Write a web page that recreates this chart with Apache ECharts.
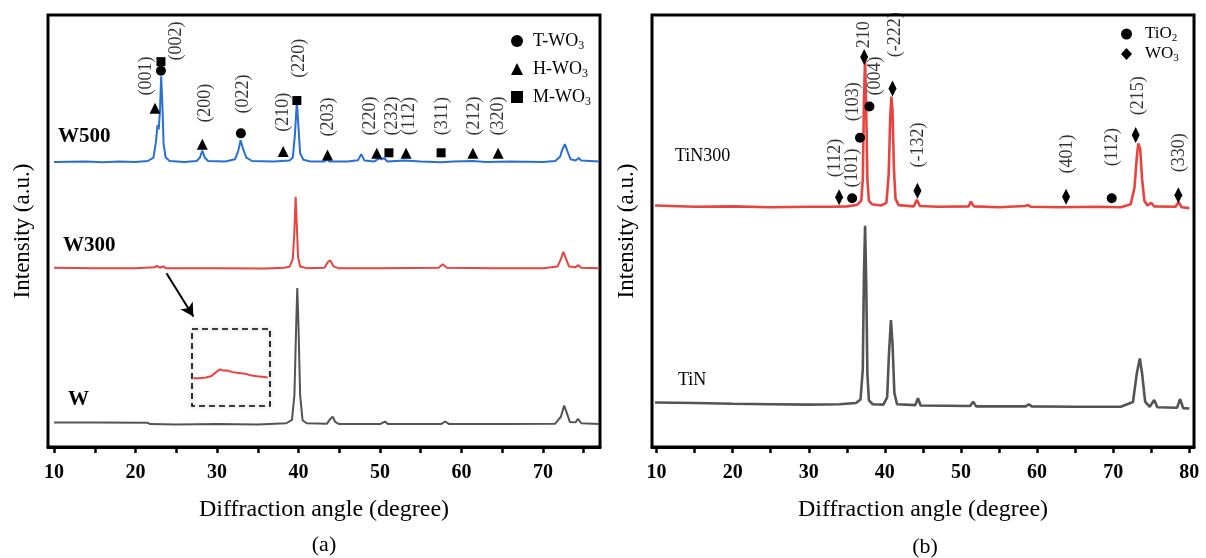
<!DOCTYPE html>
<html>
<head>
<meta charset="utf-8">
<script src="https://cdn.jsdelivr.net/npm/echarts@6/dist/echarts.min.js"></script>
<style>html,body{margin:0;padding:0;background:#fff}#c{width:1206px;height:558px}</style>
</head>
<body>
<div id="c"></div>
<script>
// ---------- data ----------
const ticksA = [10, 15, 20, 25, 30, 35, 40, 45, 50, 55, 60, 65, 70, 75];
const labelsA = [10, 20, 30, 40, 50, 60, 70];
const ticksB = [10, 15, 20, 25, 30, 35, 40, 45, 50, 55, 60, 65, 70, 75, 80];
const labelsB = [10, 20, 30, 40, 50, 60, 70, 80];

const w500 = [[10,66.0],[14,66.1],[16,65.9],[18,66.1],[20,66.0],[21.5,66.2],[22.2,67.0],[22.5,70.5],[22.7,74.5],[22.85,73.5],[23.0,78],[23.15,85.8],[23.3,79],[23.45,70],[23.7,67],[24.2,66.2],[26,66.0],[27.5,66.2],[27.9,67],[28.2,68.6],[28.5,67],[28.9,66.2],[31,66.1],[32.2,66.6],[32.6,68.5],[32.9,71.0],[33.2,69],[33.6,67],[34.3,66.2],[37,66.1],[38.9,66.3],[39.3,67],[39.55,72],[39.8,79.9],[40.0,74],[40.2,68],[40.6,66.5],[41.5,66.1],[43.2,66.1],[43.5,66.6],[43.8,66.1],[46,66.1],[47.3,66.4],[47.7,67.8],[48.1,66.3],[49.3,66.1],[49.9,66.8],[50.2,66.6],[50.5,66.9],[50.9,66.1],[53,66.3],[55,66.1],[57.5,65.9],[59,66.1],[61.4,66.2],[63,66.0],[66,66.1],[70,66.0],[71.5,66.2],[72.1,67.2],[72.4,69],[72.7,70.1],[73.0,68.5],[73.4,66.6],[74.0,66.3],[74.4,66.9],[74.7,66.3],[76.9,66.1]];
const w300 = [[10,41.5],[15,41.4],[20,41.4],[22.3,41.6],[22.6,41.9],[23.0,41.5],[23.4,41.8],[23.7,41.4],[30,41.4],[36,41.3],[38.2,41.5],[38.9,41.7],[39.3,43.5],[39.5,50],[39.65,57.9],[39.8,51],[39.95,44],[40.2,41.8],[41,41.4],[43.2,41.5],[43.6,42.8],[43.9,43.2],[44.3,41.8],[44.9,41.4],[50,41.4],[57.2,41.5],[57.7,42.3],[58.2,41.5],[64,41.4],[70,41.4],[71.8,41.8],[72.2,43.5],[72.5,45.2],[72.8,43.7],[73.2,41.8],[74.0,41.6],[74.3,42.1],[74.7,41.5],[76.9,41.4]];
const wPure = [[10,5.7],[15,5.7],[21.5,5.6],[21.8,5.3],[25,5.2],[30,5.3],[35,5.2],[38.5,5.5],[39.2,6.3],[39.5,12],[39.7,27],[39.85,36.8],[40.0,28],[40.2,12],[40.5,6.2],[41,5.5],[43.5,5.4],[43.9,6.5],[44.2,7.0],[44.5,5.8],[45,5.3],[50,5.3],[50.6,5.9],[51,5.3],[57.5,5.3],[58.0,5.9],[58.5,5.3],[65,5.3],[71.5,5.4],[72.2,7.0],[72.6,9.6],[72.9,8.0],[73.3,5.8],[74.0,5.7],[74.3,6.5],[74.7,5.5],[76.9,5.3]];
const insetW300 = [[20.2,3.6],[21,3.6],[21.8,3.7],[22.5,3.9],[23.1,4.4],[23.6,4.75],[24.0,4.6],[24.5,4.6],[25.2,4.4],[26,4.3],[26.8,4.2],[27.5,4.0],[28.3,3.85],[29,3.8],[29.7,3.7]];

const tin300 = [[9.8,55.9],[12,55.8],[15,55.6],[20,55.7],[25,55.5],[30,55.6],[33,55.6],[35,55.7],[36.3,56.0],[36.9,57],[37.1,62],[37.25,80],[37.4,90.0],[37.55,78],[37.7,62],[37.9,57],[38.3,56.2],[39.5,55.9],[40.2,56.5],[40.5,63],[40.7,76],[40.85,81.1],[41.0,78],[41.2,64],[41.4,57.5],[41.8,56],[43.8,55.7],[44.2,57.2],[44.6,55.8],[47,55.6],[51.0,55.7],[51.3,56.8],[51.7,55.7],[55,55.5],[58.4,55.8],[58.8,56.0],[59.2,55.6],[63,55.5],[68,55.6],[71,55.5],[72.3,56.2],[72.8,60],[73.1,67],[73.3,70.3],[73.55,69],[73.8,62],[74.1,57],[74.5,55.9],[75.0,56.5],[75.4,55.7],[78.2,55.6],[78.6,56.7],[79.0,55.5],[80,55.3]];
const tin = [[9.8,10.3],[15,10.2],[20,10.0],[25,9.9],[30,9.8],[34,9.9],[36.2,10.2],[36.8,11],[37.1,18],[37.25,40],[37.4,51.2],[37.55,38],[37.7,17],[37.9,10.8],[38.4,9.9],[39.8,9.8],[40.3,11.5],[40.55,22],[40.8,29.4],[41.0,24],[41.25,12.5],[41.6,9.9],[44.0,9.7],[44.35,11.3],[44.7,9.6],[51.2,9.5],[51.6,10.5],[52.0,9.4],[58.5,9.4],[58.9,9.9],[59.3,9.4],[65,9.3],[71,9.3],[72.6,10.4],[73.1,17],[73.5,20.5],[73.8,17],[74.2,10.5],[74.8,9.3],[75.4,10.9],[75.8,9.2],[78.4,9.1],[78.8,11.1],[79.2,9.0],[80,8.9]];

const tWO3 = [[23.12,87.1],[32.93,72.6]];
const hWO3 = [[22.39,78.4],[28.2,70.1],[38.12,68.4],[43.56,67.6],[49.6,68.0],[53.2,68.0],[61.4,68.0],[64.5,68.0]];
const mWO3 = [[23.12,89.2],[39.8,80.2],[51.1,68.1],[57.5,68.1]];
const hklA = [[21.28,85.9,'(001)'],[25.05,94.0,'(002)'],[28.52,79.6,'(200)'],[33.21,81.7,'(022)'],[38.12,77.5,'(210)'],[40.08,90.0,'(220)'],[43.64,76.4,'(203)'],[48.84,76.6,'(220)'],[51.53,76.6,'(232)'],[53.65,76.6,'(112)'],[57.66,76.6,'(311)'],[61.54,76.6,'(212)'],[64.48,76.6,'(320)']];

const tiO2 = [[35.70,57.6],[36.73,71.6],[37.97,78.8],[69.81,57.6]];
const wo3 = [[33.99,57.8],[37.28,90.3],[41.0,83.0],[44.28,59.3],[63.81,57.9],[72.96,72.2],[78.56,58.3]];
const hklB = [[33.47,66.9,'(112)'],[35.66,64.6,'(101)'],[35.87,79.9,'(103)'],[37.28,95.4,'210'],[38.72,85.9,'(004)'],[41.35,95.4,'(-222)'],[44.41,69.9,'(-132)'],[63.98,67.8,'(401)'],[69.94,69.4,'(112)'],[73.30,81.3,'(215)'],[78.69,68.1,'(330)']];

const arrowA = [[23.8,40.2],[27.1,30.2]];

// ---------- chart ----------
const FONT = "'Liberation Serif','Times New Roman',serif";
const BLUE = '#2a6fd3', RED = '#e8443f', GRAY = '#545454';

function xAx(gi, min, max, ticks, labels) {
  return {
    gridIndex: gi, type: 'value', min: min, max: max,
    axisLine: {show: true, lineStyle: {color: '#000', width: 3}},
    axisTick: {show: true, inside: false, length: 6, lineStyle: {color: '#000', width: 2.5}, customValues: ticks},
    axisLabel: {customValues: labels, fontFamily: FONT, fontWeight: 'bold', fontSize: 20, color: '#000', margin: 16},
    splitLine: {show: false},
    name: 'Diffraction angle (degree)', nameLocation: 'middle', nameGap: 51,
    nameTextStyle: {fontFamily: FONT, fontSize: 24, color: '#000'}
  };
}
function yAx(gi) {
  return {
    gridIndex: gi, type: 'value', min: 0, max: 100,
    axisLine: {show: false}, axisTick: {show: false}, axisLabel: {show: false}, splitLine: {show: false},
    name: 'Intensity (a.u.)', nameLocation: 'middle', nameGap: 14, nameRotate: 90,
    nameTextStyle: {fontFamily: FONT, fontSize: 23, color: '#000'}
  };
}
function line(name, data, color, xi, w) {
  return {name: name, type: 'line', xAxisIndex: xi, yAxisIndex: xi, data: data, showSymbol: false, symbol: 'none',
    lineStyle: {color: color, width: w || 2}, itemStyle: {color: color}, silent: true, z: 2};
}
function marks(name, data, symbol, size, xi) {
  return {name: name, type: 'scatter', xAxisIndex: xi, yAxisIndex: xi, data: data, symbol: symbol, symbolSize: size,
    itemStyle: {color: '#000', opacity: 1}, silent: true, z: 5};
}
function hkl(data, xi) {
  return {type: 'scatter', xAxisIndex: xi, yAxisIndex: xi, symbolSize: 0, silent: true, z: 6,
    data: data.map(d => ({value: [d[0], d[1]], name: d[2]})),
    label: {show: true, position: 'inside', rotate: 90, formatter: p => p.name, fontFamily: FONT, fontSize: 18, color: '#000'}};
}
const rich = {
  n: {fontFamily: FONT, fontSize: 18, color: '#000', padding: [0, 0, 0, 5]},
  s: {fontFamily: FONT, fontSize: 12, color: '#000', padding: [9, 0, 0, 0]}
};
function fmt(name) { return '{n|' + name.slice(0, -1) + '}{s|' + name.slice(-1) + '}'; }

const chart = echarts.init(document.getElementById('c'), null, {renderer: 'canvas'});
chart.setOption({
  animation: false,
  backgroundColor: '#fff',
  grid: [
    {left: 48, top: 15, width: 552, height: 432, show: true, borderColor: '#000', borderWidth: 3, outerBoundsMode: 'none'},
    {left: 652, top: 15, width: 542, height: 432, show: true, borderColor: '#000', borderWidth: 3, outerBoundsMode: 'none'},
    {left: 192, top: 329, width: 78, height: 77, show: false, outerBoundsMode: 'none'}
  ],
  xAxis: [
    xAx(0, 9.26, 77.0, ticksA, labelsA),
    xAx(1, 9.4, 80.62, ticksB, labelsB),
    {gridIndex: 2, type: 'value', min: 20, max: 30, show: false}
  ],
  yAxis: [
    yAx(0), yAx(1),
    {gridIndex: 2, type: 'value', min: 0, max: 10, show: false}
  ],
  legend: [
    {orient: 'vertical', left: 506, top: 25, itemWidth: 12, itemHeight: 12, itemGap: 6, selectedMode: false,
     data: ['T-WO3', 'H-WO3', 'M-WO3'], formatter: fmt, textStyle: {rich: rich, lineHeight: 22},
     itemStyle: {opacity: 1}},
    {orient: 'vertical', left: 1116, top: 19, itemWidth: 11, itemHeight: 12, itemGap: 0, selectedMode: false,
     data: ['TiO2', 'WO3'], formatter: fmt, itemStyle: {opacity: 1},
     textStyle: {rich: {n: {fontFamily: FONT, fontSize: 17, color: '#000', padding: [0,0,0,8]}, s: {fontFamily: FONT, fontSize: 11, color: '#000', padding: [8,0,0,0]}}, lineHeight: 20}}
  ],
  series: [
    line('W500', w500, BLUE, 0),
    Object.assign(line('W300', w300, RED, 0), {
      markLine: {silent: true, symbol: ['none', 'arrow'], symbolSize: [11, 13], label: {show: false},
        lineStyle: {color: '#000', width: 2, type: 'solid'},
        data: [[{coord: arrowA[0]}, {coord: arrowA[1]}]]}
    }),
    line('W', wPure, GRAY, 0),
    line('inset', insetW300, RED, 2),
    marks('T-WO3', tWO3, 'circle', 10, 0),
    marks('H-WO3', hWO3, 'triangle', 11, 0),
    marks('M-WO3', mWO3, 'rect', 9, 0),
    hkl(hklA, 0),
    line('TiN300', tin300, RED, 1, 2.6),
    line('TiN', tin, GRAY, 1, 2.6),
    marks('TiO2', tiO2, 'circle', 10, 1),
    marks('WO3', wo3, 'diamond', [8, 16], 1),
    hkl(hklB, 1)
  ],
  graphic: [
    {type: 'rect', shape: {x: 192, y: 329, width: 78, height: 77}, silent: true, z: 10,
     style: {fill: 'none', stroke: '#000', lineWidth: 1.6, lineDash: [6, 4], shadowBlur: 4, shadowColor: 'rgba(0,0,0,0.35)'}},
    {type: 'text', x: 58, y: 137, silent: true, style: {text: 'W500', font: "bold 21px 'Liberation Serif'", fill: '#000', textVerticalAlign: 'middle'}},
    {type: 'text', x: 63, y: 246, silent: true, style: {text: 'W300', font: "bold 21px 'Liberation Serif'", fill: '#000', textVerticalAlign: 'middle'}},
    {type: 'text', x: 68, y: 400, silent: true, style: {text: 'W', font: "bold 21px 'Liberation Serif'", fill: '#000', textVerticalAlign: 'middle'}},
    {type: 'text', x: 675, y: 156, silent: true, style: {text: 'TiN300', font: "18px 'Liberation Serif'", fill: '#000', textVerticalAlign: 'middle'}},
    {type: 'text', x: 678, y: 380, silent: true, style: {text: 'TiN', font: "18px 'Liberation Serif'", fill: '#000', textVerticalAlign: 'middle'}},
    {type: 'text', x: 324, y: 545, silent: true, style: {text: '(a)', font: "22px 'Liberation Serif'", fill: '#000', textAlign: 'center', textVerticalAlign: 'middle'}},
    {type: 'text', x: 925, y: 547, silent: true, style: {text: '(b)', font: "22px 'Liberation Serif'", fill: '#000', textAlign: 'center', textVerticalAlign: 'middle'}}
  ]
});
</script>
</body>
</html>
